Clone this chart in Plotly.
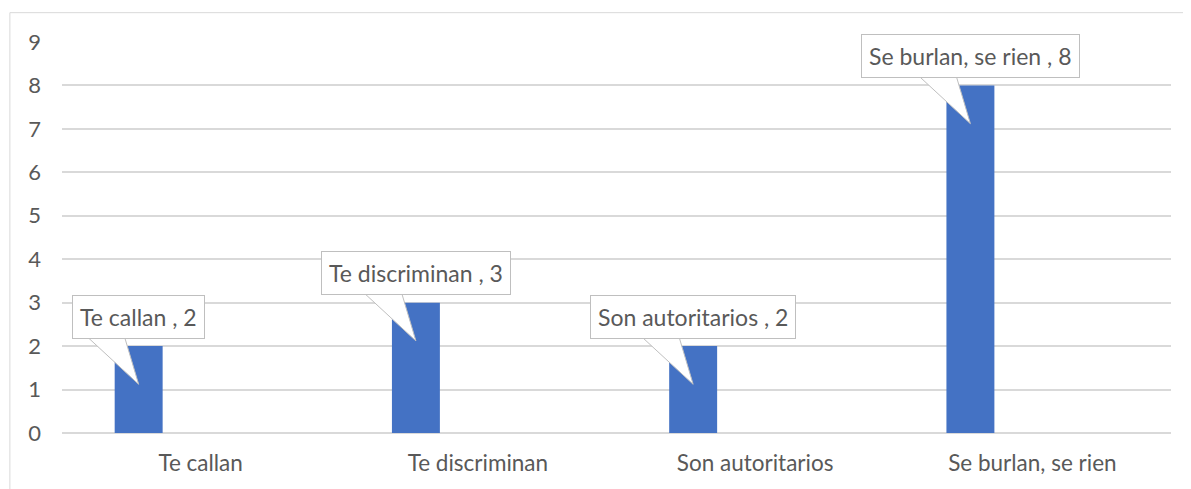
import plotly.graph_objects as go

# Chart data
categories = ["Te callan", "Te discriminan", "Son autoritarios", "Se burlan, se rien"]
values = [2, 3, 2, 8]

BAR_COLOR = "#4472C4"
TEXT_COLOR = "#595959"
GRID_COLOR = "#D9D9D9"
FONT = "Lato, 'Open Sans', sans-serif"

# Bar geometry within each category slot (in category units)
BAR_OFFSET = -0.31
BAR_WIDTH = 0.173
bar_center = BAR_OFFSET + BAR_WIDTH / 2

x_pos = list(range(len(categories)))

fig = go.Figure()
fig.add_trace(
    go.Bar(
        x=x_pos,
        y=values,
        width=BAR_WIDTH,
        offset=BAR_OFFSET,
        marker=dict(color=BAR_COLOR, line=dict(width=0)),
        hoverinfo="skip",
        showlegend=False,
    )
)

# Callout tails: a wedge from the label box down into each bar
for i, v in zip(x_pos, values):
    cx = i + bar_center
    tail_x = [cx - 0.2, cx, cx - 0.055, cx - 0.2]
    tail_y = [v + 0.3, v - 0.88, v + 0.3, v + 0.3]
    fig.add_trace(
        go.Scatter(
            x=tail_x,
            y=tail_y,
            mode="lines",
            fill="toself",
            fillcolor="white",
            line=dict(color="#BFBFBF", width=1),
            hoverinfo="skip",
            showlegend=False,
        )
    )

# Callout boxes
annotations = []
for i, (cat, v) in enumerate(zip(categories, values)):
    annotations.append(
        dict(
            x=i + bar_center,
            y=v + 0.17,
            xref="x",
            yref="y",
            text=f"{cat} , {v}",
            showarrow=False,
            xanchor="center",
            yanchor="bottom",
            bgcolor="white",
            bordercolor="#BFBFBF",
            borderwidth=1,
            borderpad=7,
            font=dict(family=FONT, size=23, color=TEXT_COLOR),
        )
    )

fig.update_layout(
    width=1191,
    height=489,
    # page body adds an 8px offset, margins compensate for it
    margin=dict(l=54, r=28, t=34, b=64),
    paper_bgcolor="white",
    plot_bgcolor="white",
    font=dict(family=FONT, size=22, color=TEXT_COLOR),
    annotations=annotations,
    xaxis=dict(
        range=[-0.5, len(categories) - 0.5],
        tickvals=x_pos,
        ticktext=categories,
        showgrid=False,
        zeroline=False,
        showline=False,
        ticks="",
        tickfont=dict(family=FONT, size=22.5, color=TEXT_COLOR),
        ticklabelstandoff=14,
    ),
    yaxis=dict(
        range=[0, 9],
        dtick=1,
        showgrid=True,
        gridcolor=GRID_COLOR,
        gridwidth=1.5,
        zeroline=True,
        zerolinecolor=GRID_COLOR,
        zerolinewidth=1.5,
        showline=False,
        ticks="",
        tickfont=dict(family=FONT, size=22, color=TEXT_COLOR),
        ticklabelstandoff=20,
    ),
    shapes=[
        dict(
            type="rect",
            xref="paper",
            yref="paper",
            x0=-0.047,
            x1=1.05,
            y0=-0.3,
            y1=1.075,
            line=dict(color=GRID_COLOR, width=1),
            fillcolor="rgba(0,0,0,0)",
            layer="below",
        )
    ],
)

fig.write_html("out.html")
